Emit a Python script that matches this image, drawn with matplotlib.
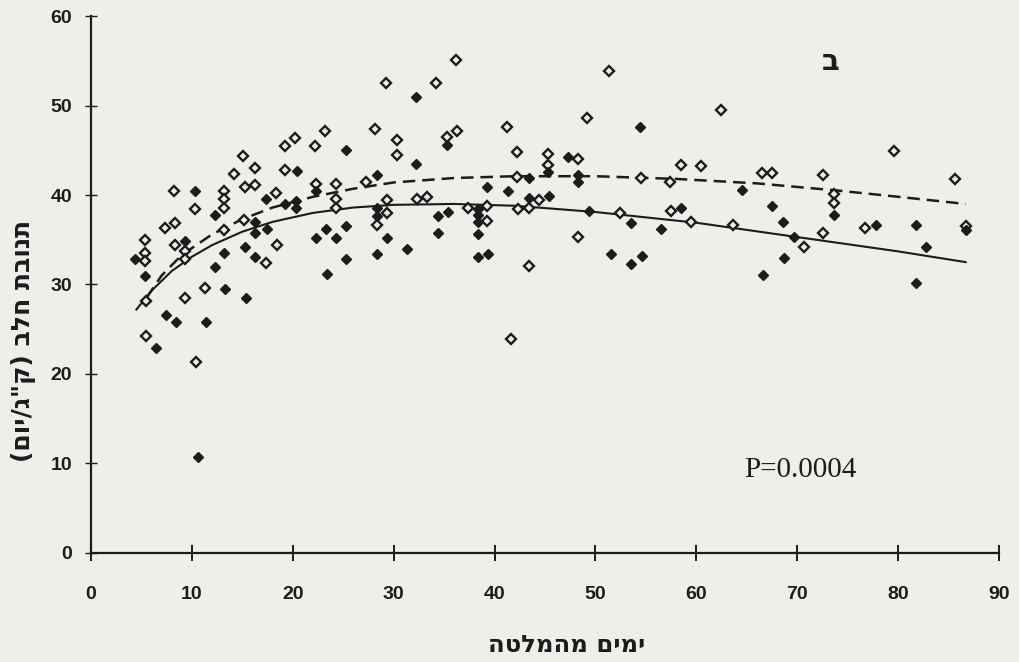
import matplotlib
matplotlib.use('Agg')
import matplotlib.pyplot as plt

plt.rcParams['lines.scale_dashes'] = False

paper = '#efeeea'
ink = '#1c1c1c'

# open diamonds
open_x = [29.2, 23.2, 28.2, 30.3, 30.3, 20.2, 19.2, 22.2, 15.1, 16.3, 19.2, 14.2, 8.2, 13.2, 13.2,
          13.2, 15.3, 16.3, 18.3, 10.3, 22.3, 24.3, 24.3, 24.3, 27.3, 29.3, 29.3, 28.3, 7.3, 8.3,
          5.4, 5.4, 5.4, 8.3, 9.3, 9.3, 15.2, 13.2, 18.4, 17.3, 5.5, 9.3, 11.3, 5.5, 10.4,
          36.2, 34.2, 51.3, 49.2, 41.2, 35.3, 36.3, 42.2, 45.3, 45.3, 48.3, 58.5, 60.5, 42.2, 54.5,
          57.4, 32.3, 33.3, 44.4, 37.4, 39.3, 39.3, 42.3, 43.4, 52.4, 57.5, 59.5, 48.3, 43.4, 41.6,
          62.4, 79.6, 66.5, 67.5, 72.6, 85.6, 73.6, 73.6, 63.6, 72.6, 70.7, 76.7, 86.7]
open_y = [52.5, 47.2, 47.4, 46.1, 44.5, 46.4, 45.5, 45.5, 44.4, 43.0, 42.8, 42.3, 40.4, 40.5, 39.5,
          38.6, 40.9, 41.1, 40.2, 38.4, 41.2, 41.2, 39.6, 38.5, 41.5, 39.4, 38.0, 36.6, 36.3, 36.9,
          35.0, 33.5, 32.6, 34.4, 33.7, 32.9, 37.2, 36.1, 34.4, 32.4, 28.1, 28.5, 29.6, 24.2, 21.3,
          55.1, 52.5, 53.9, 48.6, 47.6, 46.5, 47.1, 44.8, 44.6, 43.4, 44.0, 43.4, 43.2, 42.0, 41.9,
          41.5, 39.5, 39.8, 39.4, 38.6, 38.8, 37.1, 38.4, 38.5, 38.0, 38.2, 37.0, 35.3, 32.1, 23.9,
          49.5, 44.9, 42.5, 42.5, 42.2, 41.8, 40.1, 39.1, 36.6, 35.7, 34.2, 36.3, 36.5]

# filled diamonds
fill_x = [20.4, 10.3, 17.3, 19.2, 20.3, 20.3, 12.3, 22.3, 25.3, 28.3, 28.3, 28.3, 4.4, 9.3, 16.3,
          17.4, 16.3, 15.3, 13.2, 16.3, 12.3, 22.3, 23.3, 24.3, 25.3, 25.3, 28.3, 29.3, 31.3, 5.4,
          23.4, 13.3, 15.4, 7.4, 8.4, 11.4, 6.4, 10.6, 32.2, 54.4, 35.3, 32.2, 45.3, 47.3, 43.4,
          48.3, 48.3, 39.3, 41.3, 43.4, 45.4, 38.4, 38.4, 38.4, 34.4, 35.4, 49.4, 53.5, 58.5, 56.5,
          34.4, 38.4, 38.4, 39.4, 51.5, 53.5, 54.6, 64.5, 73.6, 67.5, 68.6, 69.7, 77.8, 81.8, 86.7,
          82.8, 68.7, 66.6, 81.8]
fill_y = [42.7, 40.4, 39.5, 39.0, 39.3, 38.6, 37.8, 40.4, 45.0, 42.2, 38.5, 37.7, 32.8, 34.9, 37.0,
          36.2, 35.7, 34.2, 33.5, 33.1, 32.0, 35.2, 36.2, 35.2, 36.5, 32.9, 33.4, 35.2, 34.0, 31.0,
          31.2, 29.5, 28.5, 26.6, 25.8, 25.8, 22.9, 10.7, 50.9, 47.6, 45.6, 43.5, 42.6, 44.3, 41.9,
          42.2, 41.4, 40.9, 40.4, 39.7, 39.9, 38.4, 37.8, 37.0, 37.6, 38.1, 38.2, 36.9, 38.5, 36.2,
          35.7, 35.6, 33.1, 33.4, 33.4, 32.3, 33.2, 40.6, 37.8, 38.8, 37.0, 35.3, 36.6, 36.6, 36.1,
          34.2, 33.0, 31.1, 30.2]

# fitted curves
dash_x = [5.5, 7, 9, 12, 15, 18, 22, 26, 30, 36, 42, 50, 58, 66, 74, 80, 86.7]
dash_y = [28.5, 31.0, 33.3, 35.6, 37.3, 38.6, 39.8, 40.7, 41.4, 41.9, 42.1, 42.1, 41.8, 41.3, 40.5, 39.8, 39.0]
solid_x = [4.5, 6, 8, 10, 12, 15, 18, 22, 26, 30, 36, 42, 50, 60, 70, 80, 86.7]
solid_y = [27.2, 29.3, 31.5, 33.1, 34.4, 35.9, 37.0, 38.0, 38.6, 38.9, 39.0, 38.8, 38.1, 36.9, 35.3, 33.7, 32.5]

xticks = list(range(0, 91, 10))
yticks = list(range(0, 61, 10))

xlabel = 'ימים מהמלטה'
ylabel = 'תנובת חלב (ק"ג/יום)'
panel = 'ב'


def visual(s):
    # matplotlib has no bidi, so hand it the right-to-left text in display order
    r = s[::-1]
    return r.replace('(', '\0').replace(')', '(').replace('\0', ')')


fig = plt.figure(figsize=(10.2, 6.62), dpi=100, facecolor=paper)
ax = fig.add_axes([0.0892, 0.1647, 0.8902, 0.8111])
ax.set_facecolor(paper)

ax.plot(solid_x, solid_y, color=ink, lw=1.5)
ax.plot(dash_x, dash_y, color=ink, lw=1.8, dashes=(9, 5))
ax.plot(open_x, open_y, 'D', ms=5.4, mfc=paper, mec=ink, mew=1.7, ls='none')
ax.plot(fill_x, fill_y, 'D', ms=4.8, color=ink, ls='none')

ax.set_xlim(0, 90)
ax.set_ylim(0, 60)
for s in ['top', 'right']:
    ax.spines[s].set_visible(False)
for s in ['left', 'bottom']:
    ax.spines[s].set_linewidth(1.6)
    ax.spines[s].set_color(ink)

ax.set_xticks(xticks)
ax.set_yticks(yticks)
ax.tick_params(axis='x', direction='inout', length=12, width=1.4, pad=18, colors=ink)
ax.tick_params(axis='y', direction='inout', length=9, width=1.0, pad=9, colors=ink)
tick_font = dict(family=['Liberation Sans Narrow', 'Liberation Sans'], weight='bold', size=14)
for lab in ax.get_xticklabels() + ax.get_yticklabels():
    lab.set_fontproperties(matplotlib.font_manager.FontProperties(**tick_font))

ax.text(64.7, 9.3, 'P=0.0004', family='Liberation Serif', fontsize=21, color=ink, va='center')
ax.text(73.3, 54.9, panel, family=['DejaVu Sans', 'Liberation Sans'], weight='bold', fontsize=21,
        color=ink, ha='center', va='center')

fig.text(0.556, 0.026, visual(xlabel), family='DejaVu Sans', weight='bold', fontsize=17.5,
         color=ink, ha='center', va='center')
fig.text(0.0235, 0.485, visual(ylabel), family='DejaVu Sans', weight='bold', fontsize=18,
         color=ink, ha='center', va='center', rotation=90)

fig.savefig('out.png', dpi=100, facecolor=paper)
